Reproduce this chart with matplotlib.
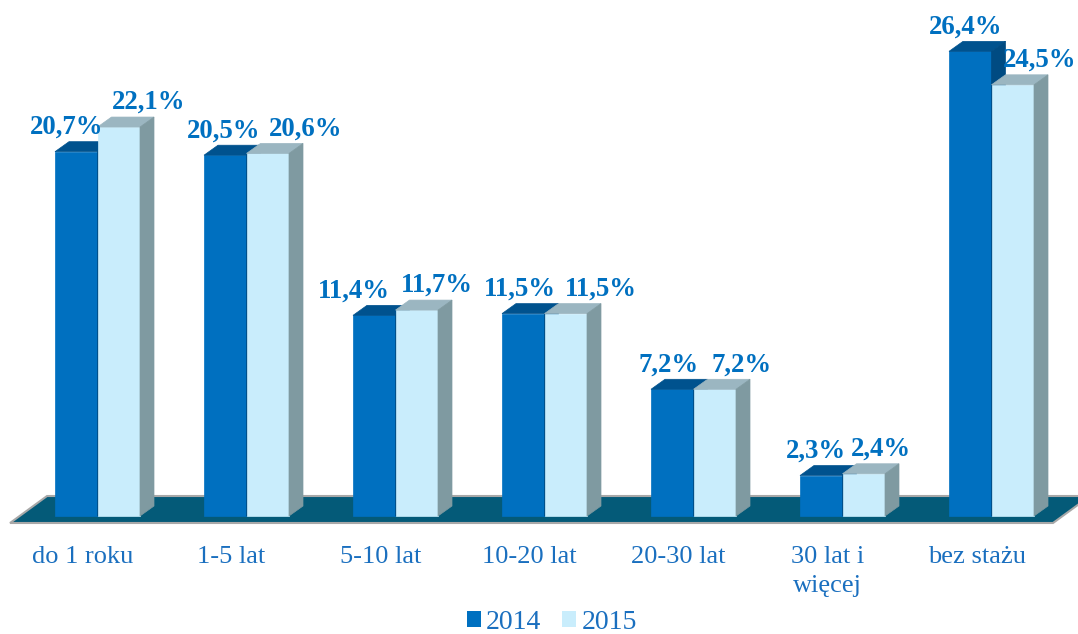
import matplotlib
matplotlib.use("Agg")
import matplotlib.pyplot as plt
import matplotlib.patches as mpatches
from matplotlib.patches import Polygon, Rectangle

categories = ["do 1 roku", "1-5 lat", "5-10 lat", "10-20 lat", "20-30 lat",
              "30 lat i\nwięcej", "bez stażu"]
values_2014 = [20.7, 20.5, 11.4, 11.5, 7.2, 2.3, 26.4]
values_2015 = [22.1, 20.6, 11.7, 11.5, 7.2, 2.4, 24.5]
series_names = ["2014", "2015"]

# colours: front, top, side
colors_2014 = ("#0070C0", "#00528E", "#004B82")
colors_2015 = ("#C9EDFC", "#9BB6C1", "#7F9AA1")
floor_color = "#045A78"
text_color = "#0070C0"
FONT = "Liberation Serif"

# horizontal nudge of the value labels (pixels), as placed in the original
nudge_2014 = [-10, -2, -20, -3, -4, -5, -5]
nudge_2015 = [30, 38, 20, 35, 27, 17, 27]

# pseudo-3D geometry (pixels converted to data units)
PX_X = 1 / 149.0   # category spacing is ~149 px
PX_Y = 1 / 17.6    # ~17.6 px per percent
bar_w = 42.5 * PX_X
dx = 14 * PX_X
dy = 10 * PX_Y


def draw_bar(ax, x0, h, cols, z):
    front, top, side = cols
    ax.add_patch(Rectangle((x0, 0), bar_w, h, facecolor=front,
                           edgecolor=front, lw=0.5, zorder=z))
    ax.add_patch(Polygon([(x0, h), (x0 + bar_w, h), (x0 + bar_w + dx, h + dy),
                          (x0 + dx, h + dy)], closed=True, facecolor=top,
                         edgecolor=top, lw=0.5, zorder=z))
    ax.add_patch(Polygon([(x0 + bar_w, 0), (x0 + bar_w + dx, dy),
                          (x0 + bar_w + dx, h + dy), (x0 + bar_w, h)],
                         closed=True, facecolor=side, edgecolor=side,
                         lw=0.5, zorder=z))


def fmt(v):
    return f"{v:.1f}%".replace(".", ",")


fig = plt.figure(figsize=(10.78, 6.34), dpi=100)
ax = fig.add_axes([0, 0, 1, 1])
ax.set_xlim(-97.5 * PX_X, (1078 - 97.5) * PX_X)
ax.set_ylim(-(634 - 516) * PX_Y, 516 * PX_Y)
ax.axis("off")

# floor
n = len(categories)
fl, fr = -0.587, 6.413
f_front, f_back = -7 * PX_Y, 20 * PX_Y
f_dx = 37 * PX_X
ax.add_patch(Polygon([(fl, f_front), (fr, f_front), (fr + f_dx, f_back),
                      (fl + f_dx, f_back)], closed=True, facecolor=floor_color,
                     edgecolor="#A8A8A8", lw=1.5, zorder=1))

for i in range(n):
    x14 = i - bar_w
    x15 = i
    draw_bar(ax, x14, values_2014[i], colors_2014, 2 + i * 0.1)
    draw_bar(ax, x15, values_2015[i], colors_2015, 2.05 + i * 0.1)

    # value labels
    ax.text(x14 + bar_w / 2 + nudge_2014[i] * PX_X, values_2014[i] + 18 * PX_Y,
            fmt(values_2014[i]), ha="center", va="baseline", fontsize=19.3,
            fontweight="bold", family=FONT, color=text_color, zorder=10)
    ax.text(x15 + bar_w / 2 + nudge_2015[i] * PX_X, values_2015[i] + 18 * PX_Y,
            fmt(values_2015[i]), ha="center", va="baseline", fontsize=19.3,
            fontweight="bold", family=FONT, color=text_color, zorder=10)

    # category labels (one text per line so baselines stay fixed)
    for k, line in enumerate(categories[i].split("\n")):
        ax.text(i - 0.1, -(47 + 29 * k) * PX_Y, line, ha="center",
                va="baseline", fontsize=19, family=FONT, color="#1A6FBF")

handles = [mpatches.Patch(facecolor=colors_2014[0], label=series_names[0]),
           mpatches.Patch(facecolor=colors_2015[0], label=series_names[1])]
leg = fig.legend(handles=handles, loc="center", bbox_to_anchor=(0.512, 0.018),
                 ncol=2, frameon=False, handlelength=0.5, handleheight=0.5,
                 handletextpad=0.2, columnspacing=0.75,
                 prop={"family": FONT, "size": 20})
for t in leg.get_texts():
    t.set_color("#1A6FBF")

plt.savefig("out.png", dpi=100)
